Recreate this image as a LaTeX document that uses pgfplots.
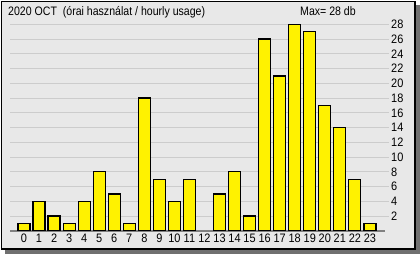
\documentclass[border=0pt]{standalone}
\usepackage{fontspec}
\setmainfont{Liberation Sans}
\usepackage{graphicx}
\usepackage{pgfplots}
\pgfplotsset{compat=1.18}
\definecolor{panel}{HTML}{E8E8E8}
\definecolor{gridc}{HTML}{CCCCCC}
\definecolor{basec}{HTML}{808080}
\definecolor{shadowc}{HTML}{707070}
\begin{document}
\begin{tikzpicture}
\useasboundingbox (0,0) rectangle (420bp,254bp);
\fill[shadowc] (5bp,0) rectangle (420bp,249bp);
\draw[line width=1.6bp, fill=panel] (1.5bp,5bp) rectangle (415bp,252.5bp);
\node[anchor=base west, inner sep=0, font=\fontsize{11}{13}\selectfont] at (8bp,238bp) {\scalebox{0.965}[1.12]{2020 OCT\ \ (órai használat / hourly usage)}};
\node[anchor=base west, inner sep=0, font=\fontsize{11}{13}\selectfont] at (300bp,238bp) {\scalebox{0.965}[1.12]{Max= 28 db}};
\begin{axis}[
  anchor=south west, at={(10bp,23.2bp)},
  scale only axis,
  x=15.04bp, y=7.375bp,
  xmin=-0.93, xmax=24.27, ymin=0, ymax=28,
  clip=false,
  axis line style={draw=none},
  major tick length=0pt,
  tick style={draw=none},
  xtick={0,...,23},
  ytick={2,4,...,28},
  ymajorgrids,
  major grid style={draw=gridc, line width=1bp},
  yticklabel pos=right,
  /pgf/number format/assume math mode=true,
  tick label style={font=\fontsize{11}{13}\selectfont},
  xticklabel={\scalebox{1}[1.12]{\pgfmathprintnumber{\tick}}},
  yticklabel={\scalebox{1}[1.12]{\pgfmathprintnumber{\tick}}},
  xticklabel style={anchor=north, inner sep=0pt, yshift=-3bp},
  yticklabel style={anchor=west, inner sep=0pt, xshift=2bp},
]
\draw[basec, line width=1.5bp] (axis cs:-0.93,0) -- (axis cs:24.0,0);
\addplot[ybar, bar width=12bp, draw=black, line width=1.2bp, fill=yellow] coordinates {
(0,1) (1,4) (2,2) (3,1) (4,4) (5,8) (6,5) (7,1) (8,18) (9,7) (10,4) (11,7)
(13,5) (14,8) (15,2) (16,26) (17,21) (18,28) (19,27) (20,17) (21,14) (22,7) (23,1)
};
\end{axis}
\end{tikzpicture}
\end{document}
